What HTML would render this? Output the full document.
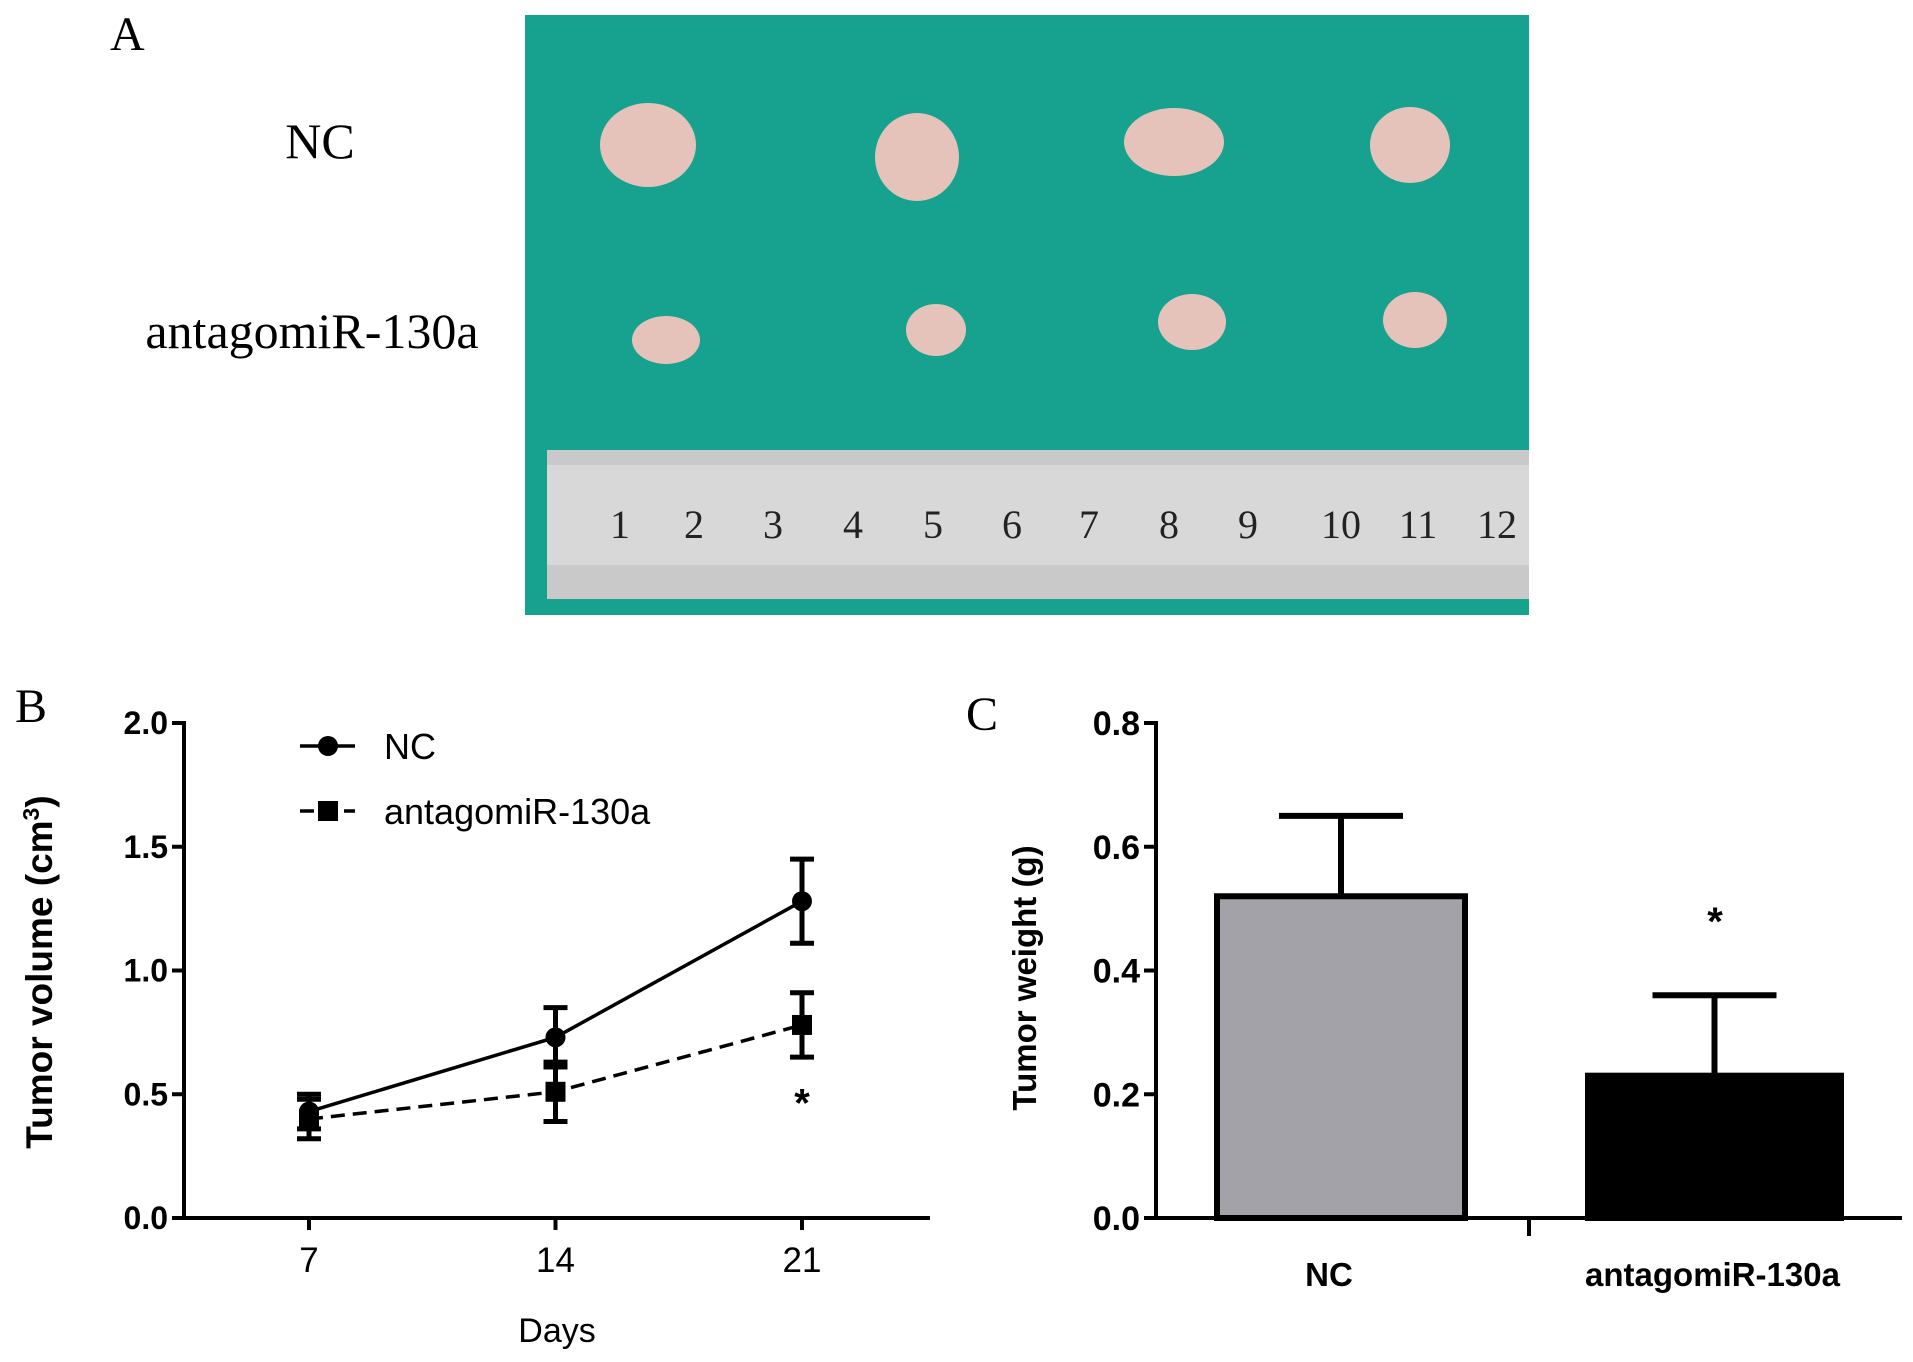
<!DOCTYPE html>
<html><head><meta charset="utf-8"><style>
body{margin:0;background:#fff;}
svg{display:block;}
text{font-family:"Liberation Sans",sans-serif;}
.serif{font-family:"Liberation Serif",serif;}
</style></head><body>
<svg id="fig" width="1913" height="1362" viewBox="0 0 1913 1362" xmlns="http://www.w3.org/2000/svg">
<rect width="1913" height="1362" fill="#fff"/>
<!-- Panel A -->
<text class="serif" x="110" y="50" font-size="48">A</text>
<text class="serif" x="320" y="158" font-size="50" text-anchor="middle">NC</text>
<text class="serif" x="312" y="348" font-size="50" text-anchor="middle">antagomiR-130a</text>
<g>
<rect x="525" y="15" width="1004" height="600" fill="#16a28e"/>
<g fill="#e6c3ba">
<ellipse cx="648" cy="145" rx="48" ry="42"/><ellipse cx="917" cy="157" rx="42" ry="44"/><ellipse cx="1174" cy="142" rx="50" ry="34"/><ellipse cx="1410" cy="145" rx="40" ry="38"/>
<ellipse cx="666" cy="340" rx="34" ry="24"/><ellipse cx="936" cy="330" rx="30" ry="26"/><ellipse cx="1192" cy="322" rx="34" ry="28"/><ellipse cx="1415" cy="320" rx="32" ry="28"/>
</g>
<rect x="547" y="450" width="982" height="149" fill="#c9c9c9"/>
<rect x="547" y="465" width="982" height="100" fill="#d8d8d8"/>
<g font-size="40" fill="#222">
<text x="620" y="538" text-anchor="middle" class="serif">1</text><text x="694" y="538" text-anchor="middle" class="serif">2</text><text x="773" y="538" text-anchor="middle" class="serif">3</text><text x="853" y="538" text-anchor="middle" class="serif">4</text><text x="933" y="538" text-anchor="middle" class="serif">5</text><text x="1012" y="538" text-anchor="middle" class="serif">6</text><text x="1089" y="538" text-anchor="middle" class="serif">7</text><text x="1169" y="538" text-anchor="middle" class="serif">8</text><text x="1248" y="538" text-anchor="middle" class="serif">9</text><text x="1341" y="538" text-anchor="middle" class="serif">10</text><text x="1418" y="538" text-anchor="middle" class="serif">11</text><text x="1497" y="538" text-anchor="middle" class="serif">12</text>
</g>
</g>
<!-- Panel B -->
<text class="serif" x="15" y="722" font-size="48">B</text>
<g id="chartB"></g>
<!-- Panel C -->
<text class="serif" x="966" y="730" font-size="48">C</text>
<g id="chartC"></g>
</svg>
<script>
const days = [7, 14, 21];
const ncVolume = [0.43, 0.73, 1.28];
const ncVolumeErr = [0.07, 0.12, 0.17];
const antVolume = [0.40, 0.51, 0.78];
const antVolumeErr = [0.08, 0.12, 0.13];
const volTicks = ["0.0", "0.5", "1.0", "1.5", "2.0"];
const groups = ["NC", "antagomiR-130a"];
const weights = [0.52, 0.23];
const weightErr = [0.13, 0.13];
const weightTicks = ["0.0", "0.2", "0.4", "0.6", "0.8"];

const NS = "http://www.w3.org/2000/svg";
function mk(parent, tag, attrs, txt){const e=document.createElementNS(NS,tag);for(const k in attrs)e.setAttribute(k,attrs[k]);if(txt!==undefined)e.textContent=txt;parent.appendChild(e);return e;}

// Chart B
const gB = document.getElementById('chartB');
const bx0=184, bx1=930, by0=1218, by1=723;
const yB = v => by0 - v/2.0*(by0-by1);
const xB = d => 309 + (d-7)/7*246.5;
let e;
e=mk(gB,'line',{x1:bx0,y1:by1-2,x2:bx0,y2:by0,stroke:'#000','stroke-width':4});


e=mk(gB,'line',{x1:bx0-2,y1:by0,x2:bx1,y2:by0,stroke:'#000','stroke-width':4});


volTicks.forEach(t=>{const y=yB(parseFloat(t));
 mk(gB,'line',{x1:bx0-12,y1:y,x2:bx0,y2:y,stroke:'#000','stroke-width':4});
 e=mk(gB,'text',{x:bx0-16,y:y+11,'font-size':32,'font-weight':'bold','text-anchor':'end'},t);
 
 
});
days.forEach(d=>{const x=xB(d);
 mk(gB,'line',{x1:x,y1:by0,x2:x,y2:by0+12,stroke:'#000','stroke-width':4});
 e=mk(gB,'text',{x:x,y:1272,'font-size':35,'text-anchor':'middle'},String(d));
 
 
});
e=mk(gB,'text',{x:557,y:1342,'font-size':34,'text-anchor':'middle'},'Days');


e=mk(gB,'text',{transform:'translate(52,972) rotate(-90)','font-size':37,'font-weight':'bold','text-anchor':'middle'});


e.innerHTML='Tumor volume (cm<tspan baseline-shift="super" font-size="23">3</tspan>)';
function series(vals, errs, dash, marker, name){
 const pts = days.map((d,i)=>xB(d)+','+yB(vals[i])).join(' ');
 e=mk(gB,'polyline',{points:pts,fill:'none',stroke:'#000','stroke-width':3.5,'stroke-dasharray':dash});
 
 
 days.forEach((d,i)=>{const x=xB(d), y1=yB(vals[i]+errs[i]), y2=yB(vals[i]-errs[i]);
  e=mk(gB,'path',{d:`M${x},${y1}V${y2}M${x-12},${y1}H${x+12}M${x-12},${y2}H${x+12}`,stroke:'#000','stroke-width':5,fill:'none'});
  
  
  if(marker==='c') e=mk(gB,'circle',{cx:x,cy:yB(vals[i]),r:10,fill:'#000'});
  else e=mk(gB,'rect',{x:x-10,y:yB(vals[i])-10,width:20,height:20,fill:'#000'});
  
  
 });
}
series(ncVolume,ncVolumeErr,'none','c','nc');
series(antVolume,antVolumeErr,'14 8','s','antagomir');
e=mk(gB,'text',{x:xB(21),y:yB(0.5)+22,'font-size':40,'font-weight':'bold','text-anchor':'middle'},'*');


// legend
e=mk(gB,'line',{x1:300,y1:746,x2:355,y2:746,stroke:'#000','stroke-width':3.5});


mk(gB,'circle',{cx:328,cy:746,r:10,fill:'#000'});
e=mk(gB,'text',{x:384,y:759,'font-size':36},'NC');


e=mk(gB,'line',{x1:300,y1:811,x2:355,y2:811,stroke:'#000','stroke-width':3.5,'stroke-dasharray':'14 8'});


mk(gB,'rect',{x:318,y:801,width:20,height:20,fill:'#000'});
e=mk(gB,'text',{x:384,y:824,'font-size':36},'antagomiR-130a');



// Chart C
const gC = document.getElementById('chartC');
const cx0=1156, cx1=1902, cy0=1218, cy1=723;
const yC = v => cy0 - v/0.8*(cy0-cy1);
const barLeft=[1217,1588], barW=[248,253];
e=mk(gC,'line',{x1:cx0,y1:cy1-2,x2:cx0,y2:cy0,stroke:'#000','stroke-width':4});


weightTicks.forEach(t=>{const y=yC(parseFloat(t));
 mk(gC,'line',{x1:cx0-12,y1:y,x2:cx0,y2:y,stroke:'#000','stroke-width':4});
 e=mk(gC,'text',{x:cx0-16,y:y+12,'font-size':34,'font-weight':'bold','text-anchor':'end'},t);
 
 
});
e=mk(gC,'text',{transform:'translate(1036,978) rotate(-90)','font-size':33,'font-weight':'bold','text-anchor':'middle'},'Tumor weight (g)');


const fills=['#a3a2a9','#000'];
groups.forEach((g,i)=>{
 const x=barLeft[i], w=barW[i], c=x+w/2;
 e=mk(gC,'path',{d:`M${c},${yC(weights[i])}V${yC(weights[i]+weightErr[i])}M${c-62},${yC(weights[i]+weightErr[i])}H${c+62}`,stroke:'#000','stroke-width':6,fill:'none'});
 
 
 e=mk(gC,'rect',{x:x,y:yC(weights[i]),width:w,height:cy0-yC(weights[i]),fill:fills[i],stroke:'#000','stroke-width':6});
 
 
 e=mk(gC,'text',{x:c+(i===0?-12:-2),y:1286,'font-size':33,'font-weight':'bold','text-anchor':'middle'},g);
 
 
});
e=mk(gC,'line',{x1:cx0-2,y1:cy0,x2:cx1,y2:cy0,stroke:'#000','stroke-width':4});


mk(gC,'line',{x1:1529,y1:cy0,x2:1529,y2:cy0+18,stroke:'#000','stroke-width':4});
e=mk(gC,'text',{x:1715,y:935,'font-size':40,'font-weight':'bold','text-anchor':'middle'},'*');


</script>
</body></html>
